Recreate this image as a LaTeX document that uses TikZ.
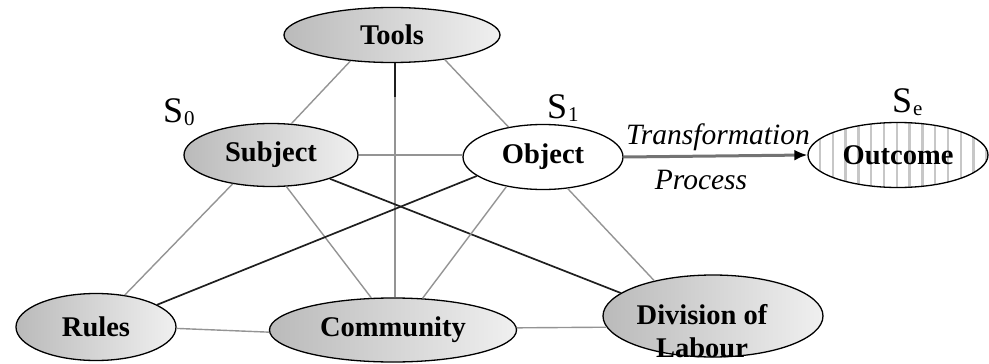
\documentclass[tikz,border=0pt]{standalone}
\usepackage{fontspec}
\setmainfont{Liberation Serif}
\usetikzlibrary{shapes.geometric,arrows.meta}
\begin{document}
\begin{tikzpicture}[x=1pt,y=-1pt,
  blob/.style={ellipse, draw=black, line width=1.3pt, inner sep=0pt,
    left color=black!27, right color=black!6,
    font=\fontsize{28.5}{33}\selectfont\bfseries},
  plainblob/.style={ellipse, draw=black, line width=1.3pt, inner sep=0pt, fill=white,
    font=\fontsize{28.5}{33}\selectfont\bfseries},
  stripes/.style={path picture={
    \foreach \i in {0,...,14}
      \draw[black!22, line width=2.4pt]
        ([xshift=12pt+\i*12.8pt]path picture bounding box.south west) --
        ([xshift=12pt+\i*12.8pt]path picture bounding box.north west);}},
  state/.style={inner sep=0pt, font=\fontsize{36}{36}\selectfont},
  thinlink/.style={draw=black!42, line width=1.4pt},
  boldlink/.style={draw=black!88, line width=1.7pt},
  caption/.style={inner sep=0pt, font=\fontsize{29.5}{33}\selectfont\itshape}]

\useasboundingbox (0,0) rectangle (989,364);

% activity system elements
\node[blob, minimum width=216pt, minimum height=55pt] (tools) at (392,35) {Tools};
\node[blob, minimum width=174pt, minimum height=63pt] (subject) at (271,155) {Subject};
\node[plainblob, minimum width=160pt, minimum height=65pt] (object) at (543,157) {Object};
\node[plainblob, stripes, minimum width=180pt, minimum height=65pt] (outcome) at (898,155) {Outcome};
\node[blob, minimum width=160pt, minimum height=67pt] (rules) at (96,327) {Rules};
\node[blob, minimum width=247pt, minimum height=64pt] (community) at (393,330) {Community};
\node[blob, minimum width=220pt, minimum height=82pt] (division) at (713,316) {};
\node[font=\fontsize{28.5}{33}\selectfont\bfseries, align=center, inner sep=0pt]
  (divtext) at (702,331) {Division of\\Labour};

% state labels
\node[state, anchor=base west] (s0) at (163,122) {S\kern1pt\raisebox{-3pt}{\fontsize{21}{21}\selectfont 0}};
\node[state, anchor=base west] (s1) at (547,118) {S\kern1pt\raisebox{-3pt}{\fontsize{21}{21}\selectfont 1}};
\node[state, anchor=base west] (se) at (892,112) {S\kern1pt\raisebox{-3pt}{\fontsize{21}{21}\selectfont e}};

% mediating relations
\coordinate (toolsfoot) at (395,97);
\draw[thinlink] (tools.-148) -- (subject.57);
\draw[thinlink] (tools.-25) -- (object.139);
\draw[thinlink, line width=2pt] (toolsfoot |- tools.south) -- (toolsfoot |- community.north);
\draw[boldlink] (toolsfoot |- tools.south) -- (toolsfoot);
\draw[thinlink] (subject.east) -- (object.west |- subject.east);
\draw[thinlink] (subject.-64) -- (community.124);
\draw[thinlink] (subject.-143) -- (rules.48);
\draw[boldlink] (subject.-22) -- (division.166);
\draw[boldlink] (object.-164) -- (rules.20);
\draw[thinlink] (object.-141) -- (community.47);
\draw[thinlink] (object.-52) -- (division.149);
\draw[thinlink] (rules.-1) -- (community.181);
\draw[thinlink] (community.1) -- (division.186);

% transformation process
\draw[draw=black!55, line width=3pt, -{Latex[length=13pt,width=11pt,color=black]}]
  (object.east) -- (outcome.west);
\node[caption] (trans) at (718,137) {Transformation};
\node[caption] (proc) at (701,180) {Process};
\end{tikzpicture}
\end{document}
